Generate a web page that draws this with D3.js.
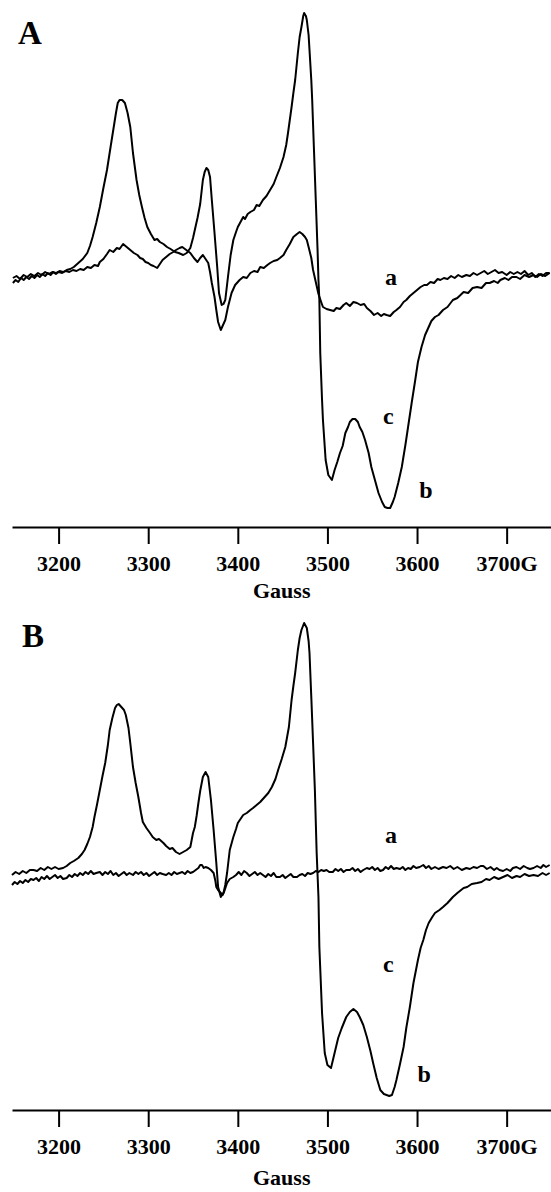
<!DOCTYPE html>
<html>
<head>
<meta charset="utf-8">
<script src="https://cdn.jsdelivr.net/npm/d3@7/dist/d3.min.js"></script>
<style>
  html, body { margin: 0; padding: 0; background: #fff; }
  svg { display: block; }
  text { font-family: "Liberation Serif", "Times New Roman", Times, serif; font-weight: bold; fill: #000; }
</style>
</head>
<body>
<svg id="chart" width="551" height="1192"></svg>
<script>
// ---- data: magnetic field (Gauss) vs. EPR signal (arbitrary units) ----
const tickValues = [3200, 3300, 3400, 3500, 3600, 3700];
const tickLabels = ["3200", "3300", "3400", "3500", "3600", "3700G"];
const axisTitle = "Gauss";
const panelNames = ["A", "B"];
const curveNames = ["a", "c", "b"];

// Panel A, large spectrum (b / c)
const spectrumA_large = [[3149,2],[3153,4],[3157,1],[3161,5],[3165,3],[3169,6],[3173,4],[3177,7],[3181,5],[3185,8],[3189,6],[3193,8],[3197,7],[3201,9],[3205,8],[3209,10],[3213,11],[3217,13],[3222,17],[3227,21],[3232,27],[3235,34],[3238,43],[3242,57],[3246,73],[3250,92],[3254,110],[3258,133],[3261,150],[3264,167],[3266,177],[3268,180],[3271,180],[3274,177],[3277,167],[3280,153],[3283,127],[3287,100],[3290,85],[3293,73],[3296,62],[3299,53],[3303,46],[3307,40],[3310,41],[3313,38],[3317,36],[3321,33],[3325,31],[3330,28],[3334,27],[3339,25],[3343,27],[3347,32],[3350,42],[3352,50],[3355,62],[3358,76],[3361,100],[3363,108],[3365,112],[3367,110],[3369,103],[3371,80],[3374,47],[3377,13],[3379,-13],[3382,-25],[3384,-24],[3386,-20],[3389,3],[3392,25],[3395,40],[3398,48],[3400,53],[3403,58],[3406,63],[3408,61],[3411,66],[3414,68],[3418,70],[3421,75],[3424,74],[3428,80],[3432,84],[3436,90],[3440,96],[3443,103],[3447,112],[3451,123],[3454,135],[3456,147],[3458,160],[3460,173],[3462,187],[3464,200],[3467,227],[3469,243],[3471,253],[3473,264],[3474,267],[3476,264],[3477,260],[3479,245],[3480,230],[3482,200],[3483,180],[3485,130],[3487,80],[3489,30],[3490,0],[3491,-20],[3492,-73],[3494,-120],[3495,-140],[3498,-180],[3501,-195],[3505,-200],[3508,-190],[3511,-182],[3514,-173],[3517,-166],[3520,-153],[3523,-147],[3525,-142],[3528,-139],[3531,-139],[3534,-142],[3536,-147],[3539,-152],[3542,-160],[3546,-173],[3549,-187],[3553,-200],[3557,-213],[3561,-222],[3564,-227],[3567,-228],[3570,-228],[3573,-222],[3575,-217],[3579,-203],[3583,-187],[3587,-165],[3590,-147],[3594,-123],[3598,-100],[3601,-82],[3605,-67],[3609,-55],[3613,-47],[3616,-41],[3620,-37],[3624,-35],[3629,-30],[3634,-27],[3640,-20],[3645,-18],[3652,-12],[3657,-13],[3662,-8],[3667,-7],[3672,-8],[3677,-3],[3681,-3],[3686,-1],[3690,-3],[3693,0],[3698,2],[3702,0],[3706,3],[3711,3],[3715,1],[3720,5],[3725,3],[3730,5],[3734,3],[3738,6],[3743,4],[3748,7]];

// Panel A, small spectrum (a)
const spectrumA_small = [[3149,-3],[3152,0],[3155,-2],[3158,2],[3161,0],[3164,3],[3167,1],[3170,4],[3173,2],[3176,5],[3179,3],[3182,6],[3185,4],[3188,7],[3191,5],[3194,8],[3197,6],[3200,8],[3204,7],[3208,9],[3212,8],[3216,10],[3220,9],[3224,11],[3228,10],[3232,13],[3236,12],[3240,15],[3244,14],[3246,18],[3250,21],[3254,26],[3257,30],[3261,28],[3265,32],[3268,31],[3272,36],[3276,33],[3280,30],[3284,27],[3288,25],[3291,22],[3294,21],[3297,18],[3300,17],[3303,15],[3306,14],[3310,12],[3313,16],[3316,20],[3320,23],[3324,26],[3328,28],[3331,30],[3335,32],[3338,33],[3341,31],[3344,29],[3347,27],[3351,22],[3355,18],[3358,22],[3361,25],[3364,21],[3367,17],[3369,8],[3371,-3],[3374,-17],[3376,-30],[3378,-42],[3381,-50],[3383,-46],[3386,-40],[3389,-27],[3393,-13],[3397,-5],[3402,0],[3406,3],[3410,2],[3414,7],[3418,9],[3422,8],[3425,13],[3429,12],[3433,15],[3436,17],[3440,19],[3444,20],[3447,22],[3451,25],[3454,30],[3458,36],[3462,43],[3466,46],[3469,48],[3472,46],[3475,43],[3477,40],[3479,33],[3482,22],[3484,10],[3487,-2],[3490,-14],[3493,-22],[3495,-27],[3499,-29],[3503,-30],[3507,-31],[3510,-28],[3514,-29],[3518,-25],[3521,-23],[3525,-26],[3529,-22],[3533,-23],[3537,-25],[3541,-24],[3544,-28],[3548,-31],[3552,-35],[3556,-33],[3560,-36],[3563,-34],[3566,-35],[3570,-36],[3574,-32],[3577,-30],[3581,-27],[3585,-22],[3588,-20],[3592,-16],[3596,-13],[3600,-10],[3604,-7],[3608,-5],[3611,-5],[3615,-2],[3619,-3],[3623,1],[3626,0],[3630,2],[3634,1],[3638,4],[3642,2],[3646,5],[3650,3],[3655,5],[3659,4],[3663,7],[3667,5],[3671,7],[3675,9],[3679,6],[3683,8],[3687,10],[3691,7],[3695,8],[3700,5],[3704,8],[3708,6],[3712,8],[3716,6],[3720,9],[3724,5],[3728,7],[3732,3],[3736,6],[3740,4],[3744,7],[3748,7]];

// Panel B, large spectrum (b / c)
const spectrumB_large = [[3148,-2],[3152,1],[3156,-1],[3160,2],[3164,0],[3168,3],[3172,3],[3176,2],[3180,5],[3184,3],[3188,6],[3192,4],[3196,6],[3200,4],[3205,5],[3209,7],[3213,10],[3217,12],[3222,15],[3226,19],[3229,23],[3232,29],[3235,36],[3238,46],[3240,56],[3243,69],[3246,83],[3249,97],[3252,110],[3255,128],[3257,143],[3260,155],[3263,165],[3265,168],[3267,169],[3270,166],[3273,163],[3275,158],[3278,145],[3280,130],[3283,106],[3286,90],[3289,76],[3292,60],[3294,51],[3298,45],[3302,40],[3305,36],[3309,33],[3312,34],[3317,30],[3320,27],[3324,24],[3327,25],[3331,21],[3335,19],[3339,21],[3343,23],[3347,26],[3350,40],[3352,46],[3354,57],[3356,70],[3358,82],[3361,96],[3364,101],[3367,96],[3370,73],[3373,43],[3376,10],[3378,-14],[3381,-24],[3384,-20],[3386,-12],[3388,0],[3391,23],[3395,36],[3398,44],[3400,50],[3403,54],[3406,58],[3410,60],[3414,63],[3417,65],[3421,68],[3425,71],[3430,76],[3434,80],[3438,86],[3442,94],[3445,103],[3449,114],[3453,126],[3455,136],[3457,146],[3460,173],[3462,187],[3464,200],[3467,223],[3469,235],[3471,243],[3474,250],[3477,245],[3479,232],[3480,220],[3482,176],[3484,130],[3486,83],[3488,20],[3490,-24],[3491,-74],[3494,-140],[3497,-180],[3500,-192],[3504,-195],[3508,-180],[3512,-165],[3516,-155],[3521,-144],[3525,-139],[3529,-136],[3533,-139],[3536,-144],[3540,-152],[3544,-164],[3548,-178],[3551,-190],[3555,-205],[3559,-217],[3563,-221],[3566,-222],[3569,-223],[3572,-222],[3575,-214],[3577,-207],[3581,-191],[3585,-174],[3588,-155],[3592,-134],[3596,-110],[3601,-87],[3604,-75],[3607,-67],[3610,-57],[3613,-50],[3617,-44],[3620,-40],[3625,-37],[3629,-34],[3634,-30],[3640,-24],[3645,-20],[3652,-15],[3656,-14],[3661,-11],[3667,-10],[3672,-9],[3677,-6],[3681,-7],[3686,-4],[3691,-6],[3696,-4],[3701,-2],[3706,-5],[3711,-3],[3715,-4],[3720,-1],[3725,-3],[3730,-2],[3735,-3],[3740,0],[3744,-2],[3748,0]];

// Panel B, flat spectrum (a)
const spectrumB_small = [[3148,-12],[3151,-9],[3154,-11],[3157,-8],[3160,-10],[3163,-7],[3166,-9],[3169,-6],[3172,-7],[3175,-5],[3178,-8],[3181,-4],[3184,-6],[3187,-3],[3190,-6],[3193,-4],[3196,-2],[3199,-5],[3202,-3],[3205,-6],[3209,-5],[3212,-2],[3215,-4],[3218,-1],[3221,-3],[3224,0],[3227,-2],[3230,1],[3233,-1],[3236,2],[3239,-1],[3242,0],[3246,1],[3249,-2],[3252,1],[3255,-1],[3258,2],[3261,-2],[3264,0],[3267,-3],[3270,-1],[3273,1],[3276,-2],[3279,0],[3283,-2],[3286,1],[3289,-1],[3292,1],[3295,-2],[3298,0],[3301,-3],[3304,-1],[3307,1],[3310,-2],[3313,0],[3316,-1],[3320,-2],[3323,0],[3326,-2],[3329,1],[3332,-1],[3335,0],[3338,1],[3341,-1],[3344,2],[3347,0],[3350,1],[3353,3],[3356,5],[3358,8],[3360,8],[3362,5],[3364,6],[3367,5],[3370,3],[3373,0],[3375,-8],[3376,-14],[3378,-17],[3381,-20],[3383,-22],[3385,-18],[3388,-10],[3391,-6],[3395,-4],[3398,-2],[3401,1],[3404,-2],[3407,2],[3410,0],[3413,-3],[3416,-1],[3419,1],[3422,-2],[3425,0],[3428,-2],[3431,-4],[3434,-1],[3437,-3],[3440,0],[3443,-4],[3447,-4],[3450,-2],[3453,-5],[3456,-3],[3459,-1],[3462,-4],[3466,-4],[3469,-2],[3472,-1],[3475,-3],[3478,0],[3481,-1],[3484,0],[3487,2],[3490,1],[3493,3],[3496,2],[3499,3],[3502,1],[3506,1],[3509,4],[3512,2],[3515,4],[3518,1],[3521,3],[3525,3],[3528,5],[3531,2],[3534,4],[3537,1],[3540,3],[3544,5],[3547,4],[3550,6],[3553,3],[3556,5],[3559,2],[3562,3],[3565,6],[3568,4],[3571,7],[3574,4],[3577,5],[3581,4],[3584,6],[3587,3],[3590,5],[3593,4],[3596,7],[3599,5],[3603,6],[3607,8],[3610,5],[3613,7],[3616,4],[3620,6],[3624,4],[3629,6],[3633,5],[3637,7],[3641,4],[3645,6],[3650,3],[3655,5],[3659,4],[3663,6],[3667,5],[3671,7],[3674,7],[3678,4],[3682,6],[3686,3],[3689,5],[3692,3],[3696,2],[3700,4],[3704,2],[3707,5],[3711,6],[3715,4],[3719,7],[3723,5],[3726,4],[3730,5],[3734,7],[3738,5],[3741,8],[3744,6],[3748,8]];

// curve label anchors [field (G), signal] for a, c, b
const labelPosA = [[3571, -5], [3568, -144], [3610, -218]];
const labelPosB = [[3571, 30], [3568, -99], [3608, -209]];

// ---- drawing ----
const svg = d3.select("#chart");
svg.append("rect").attr("width", 551).attr("height", 1192).attr("fill", "#fff");

const x = d3.scaleLinear().domain([3148, 3749.5]).range([12, 551]);

const panels = [
  { name: panelNames[0], y: d3.scaleLinear().domain([0, 280]).range([280, 0]), axisY: 527,
    titleY: 598, letter: [18, 44], series: [spectrumA_small, spectrumA_large], labels: labelPosA },
  { name: panelNames[1], y: d3.scaleLinear().domain([0, 280]).range([873, 593]), axisY: 1110,
    titleY: 1185, letter: [22, 647], series: [spectrumB_small, spectrumB_large], labels: labelPosB }
];

panels.forEach(p => {
  const line = d3.line().x(d => x(d[0])).y(d => p.y(d[1]));
  p.series.forEach(s => {
    svg.append("path")
      .datum(s)
      .attr("d", line)
      .attr("fill", "none")
      .attr("stroke", "#000")
      .attr("stroke-width", 2)
      .attr("stroke-linejoin", "round");
  });

  const axis = d3.axisBottom(x)
    .tickValues(tickValues)
    .tickSize(17)
    .tickSizeOuter(0)
    .tickFormat((d, i) => tickLabels[i]);
  const g = svg.append("g").attr("transform", `translate(0,${p.axisY})`).call(axis);
  g.select(".domain").attr("stroke", "#000").attr("stroke-width", 2);
  g.selectAll(".tick line").attr("stroke", "#000").attr("stroke-width", 2);
  g.selectAll(".tick text")
    .attr("y", 28)
    .attr("dy", "0.71em")
    .attr("fill", "#000")
    .style("font-family", '"Liberation Serif", "Times New Roman", serif')
    .style("font-weight", "bold")
    .style("font-size", "22px");

  svg.append("text")
    .attr("x", x(3449))
    .attr("y", p.titleY)
    .attr("text-anchor", "middle")
    .style("font-size", "22px")
    .text(axisTitle);

  svg.append("text")
    .attr("x", p.letter[0])
    .attr("y", p.letter[1])
    .style("font-size", "33px")
    .text(p.name);

  p.labels.forEach((pos, i) => {
    svg.append("text")
      .attr("x", x(pos[0]))
      .attr("y", p.y(pos[1]))
      .attr("text-anchor", "middle")
      .style("font-size", "24px")
      .text(curveNames[i]);
  });
});
</script>
</body>
</html>
